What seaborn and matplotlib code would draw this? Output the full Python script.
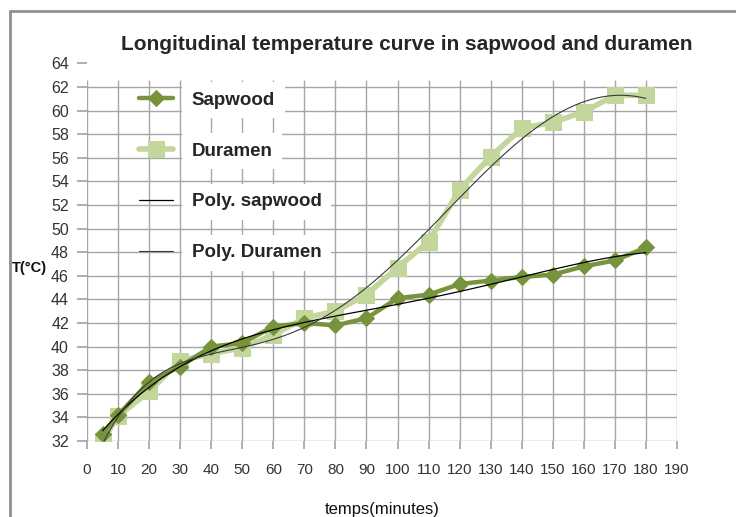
import seaborn as sns
import matplotlib.pyplot as plt
import pandas as pd

# data
temps = [5, 10, 20, 30, 40, 50, 60, 70, 80, 90, 100, 110, 120, 130, 140, 150, 160, 170, 180]
sapwood = [32.6, 34.2, 37.0, 38.3, 40.0, 40.3, 41.7, 42.0, 41.8, 42.4, 44.1, 44.4, 45.3, 45.6,
           45.9, 46.1, 46.8, 47.3, 48.4]
duramen = [32.0, 34.1, 36.2, 38.8, 39.4, 39.9, 41.0, 42.4, 43.0, 44.4, 46.7, 48.9, 53.3, 56.1,
           58.5, 59.0, 59.9, 61.3, 61.3]
xticks = list(range(0, 200, 10))
yticks = list(range(32, 66, 2))

df = pd.DataFrame({"temps": temps, "sapwood": sapwood, "duramen": duramen})

sns.set_theme(style="white")
plt.rcParams['font.family'] = ['Liberation Sans', 'DejaVu Sans']

fig = plt.figure(figsize=(7.36, 5.17), dpi=100)
ax = fig.add_axes([87 / 736, 1 - 441 / 517, 590 / 736, (441 - 63.4) / 517])

c_sap = "#77933C"
c_dur = "#C3D69B"

# grid
for yv in yticks[:-1]:
    ax.axhline(yv, color="#a6a6a6", lw=1, zorder=0)
ax.vlines(xticks, 32, 62.6, color="#a6a6a6", lw=1, zorder=0)

sns.lineplot(data=df, x="temps", y="duramen", ax=ax, color=c_dur, lw=4, marker="s",
             markersize=12, markeredgecolor=c_dur, label="Duramen", zorder=2)
sns.lineplot(data=df, x="temps", y="sapwood", ax=ax, color=c_sap, lw=3.2, marker="D",
             markersize=8, markeredgecolor=c_sap, label="Sapwood", zorder=3)
sns.regplot(data=df, x="temps", y="sapwood", ax=ax, order=4, scatter=False, ci=None,
            line_kws=dict(color="black", lw=0.9, zorder=4), label="Poly. sapwood")
sns.regplot(data=df, x="temps", y="duramen", ax=ax, order=5, scatter=False, ci=None,
            line_kws=dict(color="#3a3a3a", lw=0.8, zorder=4), label="Poly. Duramen")

ax.set_xlim(0, 190)
ax.set_ylim(32, 64)
ax.set_xticks(xticks)
ax.set_yticks(yticks)
for s in ax.spines.values():
    s.set_visible(False)
ax.tick_params(axis="x", length=6, pad=10, labelsize=11, direction="out", bottom=True)
ax.tick_params(axis="y", length=7, pad=6, labelsize=11.5, direction="out", left=True)
ax.tick_params(colors="#a6a6a6", labelcolor="#333333")

ax.set_xlabel("temps(minutes)", fontsize=12, labelpad=18, color="#111111")
ax.set_ylabel("")
fig.text(29 / 736, 1 - 268 / 517, "T(°C)", fontsize=10.5, fontweight="bold", ha="center",
         va="center", color="#111111")

fig.text(407 / 736, 1 - 45 / 517, "Longitudinal temperature curve in sapwood and duramen",
         fontsize=15, fontweight="bold", ha="center", va="center")

handles, labels = ax.get_legend_handles_labels()
order = [labels.index(n) for n in ["Sapwood", "Duramen", "Poly. sapwood", "Poly. Duramen"]]
leg = ax.legend([handles[i] for i in order], [labels[i] for i in order], loc="upper left",
                bbox_to_anchor=(0.06, 0.97), frameon=False, labelspacing=1.8,
                handlelength=1.8, handletextpad=1.0, prop=dict(weight="bold", size=13.5))
for t in leg.get_texts():
    t.set_bbox(dict(facecolor="white", edgecolor="none", pad=7))

# chart border
fig.add_artist(plt.Line2D([10 / 736, 10 / 736], [0, 1 - 11 / 517], color="#909090", lw=2))
fig.add_artist(plt.Line2D([10 / 736, 1], [1 - 11 / 517, 1 - 11 / 517], color="#909090", lw=2))

fig.savefig("out.png", dpi=100)
